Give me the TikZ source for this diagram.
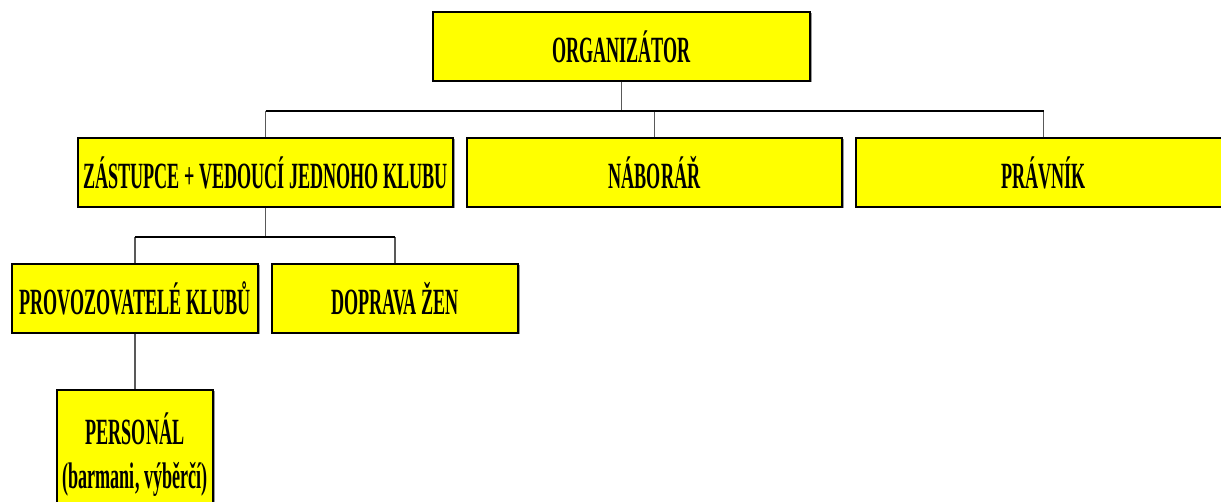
\documentclass[tikz,border=0pt]{standalone}
\usepackage{fontspec}
\setmainfont{Liberation Serif}[FakeStretch=0.49]
\usetikzlibrary{shadows}
\definecolor{boxyellow}{HTML}{FFFF00}
\tikzset{
  rolebox/.style={draw=black, line width=1.4pt, fill=boxyellow, inner sep=0pt,
    minimum height=69pt, font=\fontsize{37}{44}\selectfont\bfseries, align=center,
    drop shadow={shadow xshift=1.5pt, shadow yshift=-1.5pt, fill=black!40, opacity=1}},
  link/.style={draw=black!65, line width=1.5pt},
  barlink/.style={draw=black, line width=2pt}
}
\begin{document}
\begin{tikzpicture}[x=1pt, y=-1pt]
\clip (0,0) rectangle (1221,502);
\fill[white] (0,0) rectangle (1221,502);
% top level
\node[rolebox, minimum width=377pt] (org) at (621.5,46.5) {ORGANIZÁTOR};
% second level
\node[rolebox, minimum width=375pt] (zast) at (265.5,172.5) {ZÁSTUPCE + VEDOUCÍ JEDNOHO KLUBU};
\node[rolebox, minimum width=375pt] (nabor) at (654.5,172.5) {NÁBORÁŘ};
\node[rolebox, minimum width=375pt] (pravnik) at (1043.5,172.5) {PRÁVNÍK};
% third level
\node[rolebox, minimum width=246pt] (prov) at (135,298.5) {PROVOZOVATELÉ KLUBŮ};
\node[rolebox, minimum width=246pt] (doprava) at (395,298.5) {DOPRAVA ŽEN};
% fourth level
\node[rolebox, minimum width=156pt, minimum height=130pt] (personal) at (135,455) {PERSONÁL\\(barmani, výběrčí)};
% connectors
\draw[link] (org.south) -- ++(0,29) coordinate (bar1);
\draw[link] (zast.north) -- (zast.north |- bar1);
\draw[link] (nabor.north) -- (nabor.north |- bar1);
\draw[link] (pravnik.north) -- (pravnik.north |- bar1);
\draw[barlink] (zast.north |- bar1) -- (pravnik.north |- bar1);
\draw[link] (zast.south) -- ++(0,29) coordinate (bar2);
\draw[link] (prov.north) -- (prov.north |- bar2);
\draw[link] (doprava.north) -- (doprava.north |- bar2);
\draw[barlink] (prov.north |- bar2) -- (doprava.north |- bar2);
\draw[link] (prov.south) -- (personal.north);
\end{tikzpicture}
\end{document}
